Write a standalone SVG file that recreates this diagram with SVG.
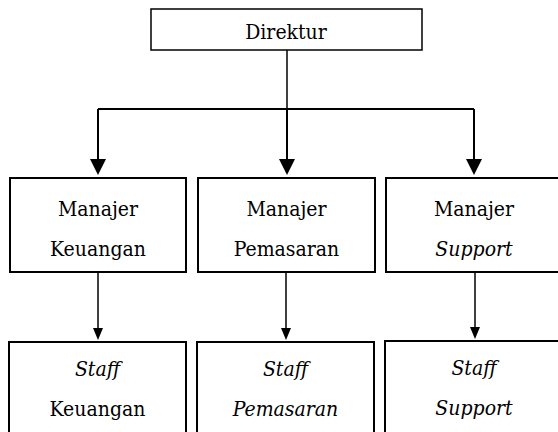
<svg xmlns="http://www.w3.org/2000/svg" width="558" height="432" viewBox="0 0 558 432">
  <style>
    .box { fill: #ffffff; stroke: #000000; stroke-width: 2; }
    text { font-family: "DejaVu Serif Condensed", "DejaVu Serif", serif; font-stretch: condensed; font-size: 21px; fill: #000000; text-anchor: middle; }
    .it { font-style: italic; }
    .thick { stroke: #000000; stroke-width: 2; fill: none; }
    .thin { stroke: #000000; stroke-width: 1.5; fill: none; }
  </style>
  <rect width="558" height="432" fill="#ffffff"/>

  <g id="connectors">
    <path class="thin" d="M287,50 V109"/>
    <path class="thick" d="M98,109 H474"/>
    <path class="thick" d="M98,109 V160"/>
    <path class="thick" d="M287,109 V160"/>
    <path class="thick" d="M474,109 V160"/>
    <polygon points="90,159 106,159 98,175" fill="#000"/>
    <polygon points="279,159 295,159 287,175" fill="#000"/>
    <polygon points="466,159 482,159 474,175" fill="#000"/>
    <path class="thin" d="M98,272 V330"/>
    <path class="thin" d="M286,272 V330"/>
    <path class="thin" d="M475,272 V329"/>
    <polygon points="93,328 103,328 98,340" fill="#000"/>
    <polygon points="281,328 291,328 286,340" fill="#000"/>
    <polygon points="470,327 480,327 475,339" fill="#000"/>
  </g>

  <g id="direktur">
    <rect class="box" x="151" y="9" width="271" height="41" style="stroke-width:1.5"/>
    <text x="286" y="39">Direktur</text>
  </g>

  <g id="manajer-keuangan">
    <rect class="box" x="10" y="178" width="176" height="94"/>
    <text x="98" y="216">Manajer</text>
    <text x="98" y="256">Keuangan</text>
  </g>
  <g id="manajer-pemasaran">
    <rect class="box" x="198" y="178" width="177" height="94"/>
    <text x="286.5" y="216">Manajer</text>
    <text x="286.5" y="256">Pemasaran</text>
  </g>
  <g id="manajer-support">
    <rect class="box" x="386" y="178" width="176" height="94"/>
    <text x="474" y="216">Manajer</text>
    <text class="it" x="474" y="256">Support</text>
  </g>

  <g id="staff-keuangan">
    <rect class="box" x="9" y="342" width="177" height="120"/>
    <text class="it" x="97.5" y="376">Staff</text>
    <text x="97.5" y="416">Keuangan</text>
  </g>
  <g id="staff-pemasaran">
    <rect class="box" x="197" y="342" width="177" height="120"/>
    <text class="it" x="285.5" y="376">Staff</text>
    <text class="it" x="285.5" y="416">Pemasaran</text>
  </g>
  <g id="staff-support">
    <rect class="box" x="385" y="341" width="177" height="120"/>
    <text class="it" x="474" y="375">Staff</text>
    <text class="it" x="474" y="415">Support</text>
  </g>
</svg>
